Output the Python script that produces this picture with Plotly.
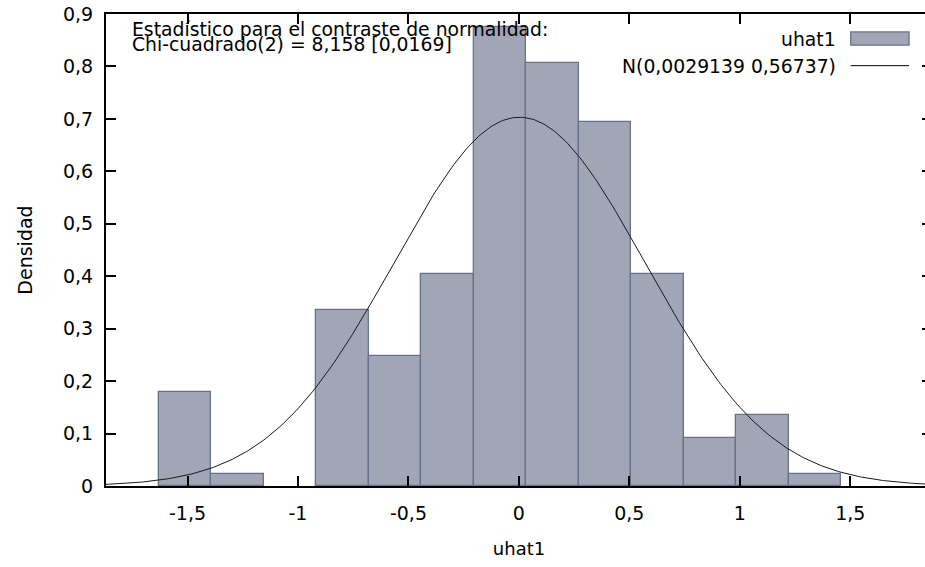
import numpy as np
import plotly.graph_objects as go

# Histogram data
bin_edges = [-1.631, -1.393, -1.155, -0.918, -0.680, -0.442, -0.204,
             0.034, 0.271, 0.509, 0.747, 0.985, 1.223, 1.460]
density = [0.179, 0.022, None, 0.336, 0.247, 0.404, 0.875,
           0.807, 0.695, 0.404, 0.091, 0.135, 0.022]

# Normal curve parameters (from legend)
norm_mean = 0.0029139
norm_sd = 0.56737

x_tickvals = [-1.5, -1, -0.5, 0, 0.5, 1, 1.5]
x_ticktext = ["-1,5", "-1", "-0,5", "0", "0,5", "1", "1,5"]
y_tickvals = [0, 0.1, 0.2, 0.3, 0.4, 0.5, 0.6, 0.7, 0.8, 0.9]
y_ticktext = ["0", "0,1", "0,2", "0,3", "0,4", "0,5", "0,6", "0,7", "0,8", "0,9"]

x_range = [-1.869, 1.870]

FONT = "DejaVu Sans"

centers = [(a + b) / 2 for a, b in zip(bin_edges[:-1], bin_edges[1:])]
widths = [b - a for a, b in zip(bin_edges[:-1], bin_edges[1:])]

xs = np.linspace(x_range[0], x_range[1], 400)
ys = np.exp(-0.5 * ((xs - norm_mean) / norm_sd) ** 2) / (norm_sd * np.sqrt(2 * np.pi))

fig = go.Figure()
fig.add_trace(go.Bar(
    x=centers, y=density, width=widths,
    marker=dict(color="#a0a6b5", line=dict(color="#66718c", width=1.3)),
    showlegend=False, hoverinfo="skip",
))
fig.add_trace(go.Scatter(
    x=xs, y=ys, mode="lines",
    line=dict(color="#1a1a1a", width=1),
    showlegend=False, hoverinfo="skip",
))

axis_common = dict(
    showgrid=False, zeroline=False, showline=True, linecolor="black", linewidth=2,
    ticks="inside", ticklen=10, tickwidth=2, tickcolor="black", mirror="allticks",
    tickfont=dict(family=FONT, size=19, color="black"), automargin=False,
    ticklabeloverflow="allow",
)

# The frame continues slightly past the right edge of the window, as in the original.
fig.update_layout(
    width=932, height=567,
    margin=dict(l=106, r=0, t=14, b=81),
    paper_bgcolor="white", plot_bgcolor="white",
    bargap=0,
    font=dict(family=FONT, size=19, color="black"),
    xaxis=dict(range=x_range, tickvals=x_tickvals, ticktext=x_ticktext,
               ticklabelstandoff=9,
               title=dict(text="uhat1", font=dict(family=FONT, size=18), standoff=20),
               **axis_common),
    yaxis=dict(range=[0, 0.9], tickvals=y_tickvals, ticktext=y_ticktext,
               ticklabelstandoff=7,
               title=dict(text="Densidad", font=dict(family=FONT, size=19), standoff=25),
               **axis_common),
)

# Statistic annotation
fig.add_annotation(xref="paper", yref="paper", x=0.0291, y=0.9665, xanchor="left", yanchor="middle",
                   text="Estadístico para el contraste de normalidad:", showarrow=False,
                   font=dict(family=FONT, size=18.8, color="black"))
fig.add_annotation(xref="paper", yref="paper", x=0.0291, y=0.935, xanchor="left", yanchor="middle",
                   text="Chi-cuadrado(2) = 8,158 [0,0169]", showarrow=False,
                   font=dict(family=FONT, size=18.8, color="black"))

# Custom legend (text right, swatch on the right)
fig.add_annotation(xref="paper", yref="paper", x=0.8862, y=0.946, xanchor="right", yanchor="middle",
                   text="uhat1", showarrow=False, font=dict(family=FONT, size=18.8, color="black"))
fig.add_annotation(xref="paper", yref="paper", x=0.8862, y=0.888, xanchor="right", yanchor="middle",
                   text="N(0,0029139 0,56737)", showarrow=False, font=dict(family=FONT, size=18.8, color="black"))
fig.add_shape(type="rect", xref="paper", yref="paper", x0=0.9016, x1=0.9722, y0=0.934, y1=0.962,
              fillcolor="#a0a6b5", line=dict(color="#66718c", width=1.3))
fig.add_shape(type="line", xref="paper", yref="paper", x0=0.9016, x1=0.9722, y0=0.8905, y1=0.8905,
              line=dict(color="black", width=1))

# Remove the default page margin and scrollbars so the figure fills the window exactly.
fig.write_html(
    "out.html",
    config={"displayModeBar": False},
    post_script="document.body.style.margin='0px';document.body.style.overflow='hidden';",
)
